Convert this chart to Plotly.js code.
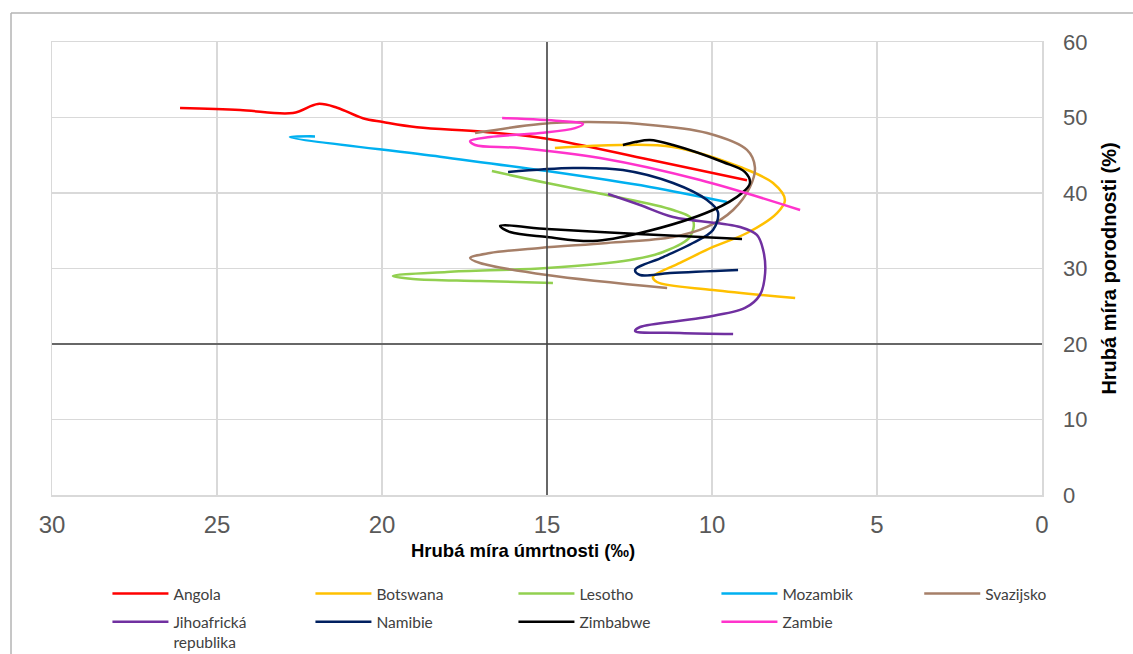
<!DOCTYPE html>
<html>
<head>
<meta charset="utf-8">
<script src="https://cdn.plot.ly/plotly-3.0.1.min.js"></script>
<style>html,body{margin:0;padding:0;background:#fff;}#chart{width:1133px;height:654px;}</style>
</head>
<body>
<div id="chart"></div>
<script>
// Hrubá míra úmrtnosti (‰) = x, Hrubá míra porodnosti (%) = y
const xTicks = [30, 25, 20, 15, 10, 5, 0];
const yTicks = [0, 10, 20, 30, 40, 50, 60];

const angolaX = [26.12, 24.30, 22.70, 21.94, 21.36, 20.58, 19.97, 18.94, 16.94, 15.00, 11.88, 8.94];
const angolaY = [51.26, 50.99, 50.60, 51.80, 51.30, 49.90, 49.40, 48.70, 48.10, 47.20, 44.40, 41.70];

const botswanaX = [14.76, 12.79, 11.18, 9.15, 8.15, 7.79, 8.03, 8.94, 9.97, 10.97, 11.79, 11.67, 9.97, 7.48];
const botswanaY = [45.96, 46.36, 46.09, 43.44, 41.32, 39.07, 37.35, 34.70, 32.85, 30.73, 28.87, 28.21, 27.15, 26.09];

const lesothoX = [16.67, 15.00, 13.18, 11.18, 10.58, 10.67, 11.48, 12.48, 15.00, 18.03, 19.67, 19.06, 17.03, 14.82];
const lesothoY = [42.91, 41.32, 39.74, 37.75, 36.42, 34.17, 32.19, 31.13, 30.07, 29.54, 29.01, 28.61, 28.34, 28.08];

const mozambikX = [22.03, 22.79, 18.24, 15.00, 11.88, 9.55];
const mozambikY = [47.50, 47.40, 44.80, 42.90, 40.80, 38.80];

const svazijskoX = [17.18, 15.21, 13.79, 12.18, 10.15, 8.94, 8.70, 8.85, 9.36, 10.15, 11.18, 13.18, 15.21, 16.73, 17.33, 17.03, 15.00, 11.36];
const svazijskoY = [47.95, 49.14, 49.40, 49.14, 47.95, 45.70, 43.44, 40.79, 37.75, 35.50, 34.17, 33.38, 32.72, 32.05, 31.39, 30.73, 29.14, 27.42];

const jarX = [13.15, 12.18, 11.18, 9.15, 8.64, 8.45, 8.39, 8.55, 9.00, 10.36, 12.18, 12.33, 10.97, 9.36];
const jarY = [39.87, 38.41, 36.82, 35.50, 34.44, 32.45, 29.40, 26.49, 24.77, 23.44, 22.25, 21.72, 21.46, 21.32];

const namibieX = [16.18, 14.21, 12.70, 11.18, 10.15, 9.82, 9.97, 10.58, 11.48, 12.33, 12.18, 11.27, 9.21];
const namibieY = [42.78, 43.31, 43.05, 41.32, 39.07, 37.48, 35.10, 33.38, 31.52, 29.80, 29.14, 29.40, 29.80];

const zimbabweX = [12.70, 12.33, 11.88, 11.18, 9.67, 9.00, 8.85, 9.09, 9.97, 12.18, 13.61, 15.00, 16.12, 16.42, 15.00, 13.39, 10.97, 9.09];
const zimbabweY = [46.36, 46.75, 47.02, 46.36, 44.11, 42.78, 41.32, 40.00, 37.75, 34.70, 33.64, 34.17, 34.83, 35.63, 35.23, 34.83, 34.30, 33.91];

const zambieX = [16.36, 14.61, 13.91, 14.15, 15.21, 16.73, 17.33, 17.18, 15.82, 13.39, 10.36, 7.33];
const zambieY = [49.93, 49.54, 49.14, 48.60, 47.95, 47.42, 46.89, 46.36, 45.96, 44.64, 41.72, 37.75];

const series = [
  {name: 'Angola', x: angolaX, y: angolaY, color: '#ff0000', legend: 'legend'},
  {name: 'Botswana', x: botswanaX, y: botswanaY, color: '#ffc000', legend: 'legend'},
  {name: 'Lesotho', x: lesothoX, y: lesothoY, color: '#92d050', legend: 'legend'},
  {name: 'Mozambik', x: mozambikX, y: mozambikY, color: '#00b0f0', legend: 'legend'},
  {name: 'Svazijsko', x: svazijskoX, y: svazijskoY, color: '#a67f68', legend: 'legend3'},
  {name: 'Jihoafrická<br>republika', x: jarX, y: jarY, color: '#7030a0', legend: 'legend2'},
  {name: 'Namibie', x: namibieX, y: namibieY, color: '#002060', legend: 'legend2'},
  {name: 'Zimbabwe', x: zimbabweX, y: zimbabweY, color: '#000000', legend: 'legend2'},
  {name: 'Zambie', x: zambieX, y: zambieY, color: '#ff33cc', legend: 'legend2'}
];

const traces = series.map(s => ({
  type: 'scatter', mode: 'lines', name: s.name, x: s.x, y: s.y,
  line: {color: s.color, width: 2.5, shape: 'spline', smoothing: 1},
  legend: s.legend, hoverinfo: 'skip'
}));

const legendCommon = {
  orientation: 'h', xanchor: 'left', yanchor: 'top',
  font: {family: 'Lato, sans-serif', size: 15.5, color: '#404040'},
  entrywidth: 132, entrywidthmode: 'pixels', itemwidth: 56,
  bgcolor: 'rgba(0,0,0,0)', valign: 'top', traceorder: 'normal'
};

const layout = {
  width: 1133, height: 654,
  margin: {l: 52, r: 91, t: 42, b: 159, pad: 0, autoexpand: false},
  paper_bgcolor: '#ffffff', plot_bgcolor: '#ffffff',
  showlegend: true,
  xaxis: {
    range: [30, 0], tickvals: xTicks, ticktext: xTicks.map(String),
    showgrid: true, gridcolor: '#d9d9d9', gridwidth: 1.5,
    showline: true, mirror: true, linecolor: '#d9d9d9', linewidth: 1.5,
    zeroline: false, ticks: '', ticklabelstandoff: 8,
    tickfont: {family: '"Liberation Sans Narrow", Arial, sans-serif', size: 24, color: '#595959'}
  },
  yaxis: {
    range: [0, 60], tickvals: yTicks, ticktext: yTicks.map(String), side: 'right',
    showgrid: true, gridcolor: '#d9d9d9', gridwidth: 1.5,
    showline: true, mirror: true, linecolor: '#d9d9d9', linewidth: 1.5,
    zeroline: false, ticks: '', ticklabelstandoff: 15,
    tickfont: {family: '"Liberation Sans", Arial, sans-serif', size: 22, color: '#595959'},
    title: {text: 'Hrubá míra porodnosti (%)', standoff: 15,
      font: {family: '"Liberation Sans", Arial, sans-serif', size: 20, color: '#000000', weight: 'bold'}}
  },
  legend: Object.assign({}, legendCommon, {x: 0.056, y: -0.181}),
  legend3: Object.assign({}, legendCommon, {x: 0.876, y: -0.181}),
  legend2: Object.assign({}, legendCommon, {x: 0.056, y: -0.243}),
  annotations: [{
    xref: 'paper', yref: 'paper', x: 0.476, y: -0.1236, xanchor: 'center', yanchor: 'middle',
    showarrow: false, text: 'Hrubá míra úmrtnosti (‰)',
    font: {family: '"Liberation Sans", Arial, sans-serif', size: 18.5, color: '#000000', weight: 'bold'}
  }],
  shapes: [
    {type: 'line', xref: 'x', yref: 'y', x0: 15, x1: 15, y0: -0.4, y1: 60, line: {color: '#404040', width: 1.5}},
    {type: 'line', xref: 'x', yref: 'y', x0: 30.06, x1: 0, y0: 20, y1: 20, line: {color: '#404040', width: 1.5}},
    {type: 'line', xref: 'paper', yref: 'paper', x0: -0.0414, x1: 1.1, y0: 1.064, y1: 1.064, line: {color: '#b4b4b4', width: 1.5}},
    {type: 'line', xref: 'paper', yref: 'paper', x0: -0.0414, x1: -0.0414, y0: 1.064, y1: -0.36, line: {color: '#b4b4b4', width: 1.5}}
  ]
};

Plotly.newPlot('chart', traces, layout, {displayModeBar: false, staticPlot: true});
</script>
</body>
</html>
